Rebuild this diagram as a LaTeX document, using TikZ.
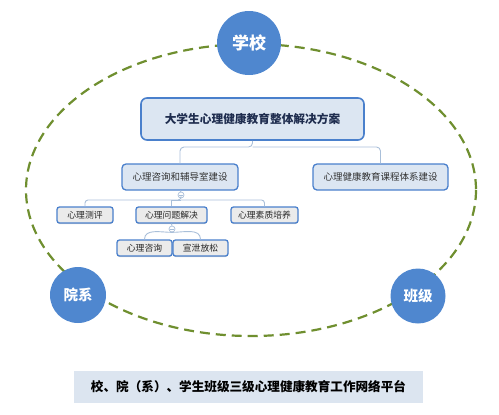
\documentclass[tikz,border=0pt]{standalone}
\usepackage{fontspec}
\setmainfont{Noto Sans CJK SC}
\usetikzlibrary{shadows}
\definecolor{circblue}{HTML}{4F87CF}
\definecolor{dashgreen}{HTML}{6F8F2F}
\definecolor{boxfill}{HTML}{DCE6F2}
\definecolor{boxline}{HTML}{4A80CC}
\definecolor{connline}{HTML}{A9BFD9}
\definecolor{titlenavy}{HTML}{1F2D4F}
\definecolor{bannerfill}{HTML}{DCE5F0}
\tikzset{
  levelcirc/.style={circle, fill=circblue, text=white, font=\bfseries\fontsize{14.5bp}{16bp}\selectfont, inner sep=0pt},
  mainbox/.style={draw=boxline, line width=1.6bp, fill=boxfill, rounded corners=6bp, minimum width=223bp, minimum height=42bp, text=titlenavy, font=\bfseries\fontsize{11.7bp}{13bp}\selectfont},
  subbox/.style={draw=boxline, line width=1.3bp, fill=boxfill, rounded corners=4bp, minimum height=26bp, text=black!80, font=\fontsize{9.5bp}{11bp}\selectfont},
  leafbox/.style={draw=boxline, line width=1.3bp, fill=black!8, rounded corners=2.5bp, minimum height=16bp, inner sep=1bp, text=black!85, font=\fontsize{8.8bp}{10bp}\selectfont, drop shadow={shadow xshift=0bp, shadow yshift=-1bp, opacity=0.35}},
  conn/.style={draw=connline, line width=0.9bp},
  marker/.style={circle, draw=connline, fill=white, line width=0.7bp, minimum size=6bp, inner sep=0pt},
  ring/.style={draw=dashgreen, line width=2.2bp, dash pattern=on 10bp off 6bp},
}
\begin{document}
\begin{tikzpicture}[x=1bp,y=-1bp]
\useasboundingbox (0,0) rectangle (499,414);
% dashed ring
\draw[ring] (251,190) ellipse [x radius=225, y radius=146];
% level circles
\node[levelcirc, minimum size=64bp, font=\bfseries\fontsize{17bp}{19bp}\selectfont] (school) at (249,43) {学校};
\node[levelcirc, minimum size=56bp] (dept) at (78,295) {院系};
\node[levelcirc, minimum size=55bp] (class) at (418,296) {班级};
% tree
\node[mainbox] (main) at (252.5,119) {大学生心理健康教育整体解决方案};
\node[subbox, minimum width=116bp] (c1) at (180,177) {心理咨询和辅导室建设};
\node[subbox, minimum width=135bp] (c2) at (380.5,177) {心理健康教育课程体系建设};
\node[leafbox, minimum width=56bp] (l1) at (85,215) {心理测评};
\node[leafbox, minimum width=71bp] (l2) at (171.5,215) {心理问题解决};
\node[leafbox, minimum width=67bp] (l3) at (264.5,215) {心理素质培养};
\node[leafbox, minimum width=55bp] (l4) at (144.5,248) {心理咨询};
\node[leafbox, minimum width=55bp] (l5) at (200.5,248) {宣泄放松};
% connectors level 1
\coordinate (j1) at (252.5,147);
\draw[conn, rounded corners=4bp] (main.south) -- (j1) -| (c1.north);
\draw[conn, rounded corners=4bp] (j1) -| (c2.north);
% connectors level 2
\node[marker] (m1) at (181,195) {};
\coordinate (j2) at (181,200);
\draw[conn] (c1.south) -- (m1.north);
\draw[conn, rounded corners=3bp] (m1.south) -- (j2) -| (l1.north);
\draw[conn, rounded corners=3bp] (j2) -| (l3.north);
\draw[conn] (j2) -| (l2.north);
% connectors level 3
\node[marker] (m2) at (172,229) {};
\draw[conn] (l2.south) -- (m2.north);
\draw[conn] (m2.south) to[out=180,in=90] (l4.north);
\draw[conn] (m2.south) to[out=0,in=90] (l5.north);
% minus signs in markers
\draw[connline, line width=0.6bp] ([xshift=-1.8bp]m1.center) -- ([xshift=1.8bp]m1.center);
\draw[connline, line width=0.6bp] ([xshift=-1.8bp]m2.center) -- ([xshift=1.8bp]m2.center);
% banner
\node[fill=bannerfill, minimum width=349bp, minimum height=32bp, font=\bfseries\fontsize{12.6bp}{14bp}\selectfont, text=black] (banner) at (248.5,387) {校、院（系）、学生班级三级心理健康教育工作网络平台};
\end{tikzpicture}
\end{document}
